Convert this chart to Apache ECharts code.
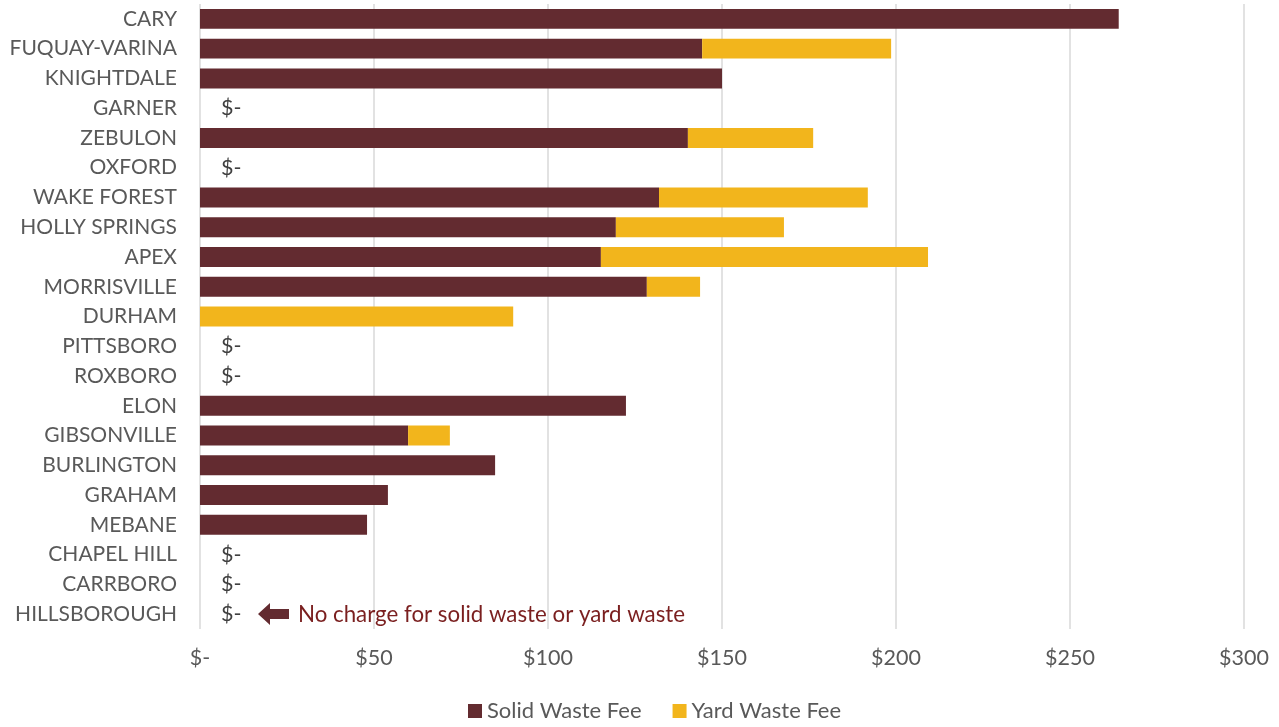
<!DOCTYPE html>
<html><head><meta charset="utf-8">
<script src="https://cdn.jsdelivr.net/npm/echarts@6/dist/echarts.min.js"></script>
<style>html,body{margin:0;padding:0;background:#fff}#c{width:1279px;height:727px}</style>
</head><body><div id="c"></div>
<script>
const categories = ['CARY','FUQUAY-VARINA','KNIGHTDALE','GARNER','ZEBULON','OXFORD','WAKE FOREST','HOLLY SPRINGS','APEX','MORRISVILLE','DURHAM','PITTSBORO','ROXBORO','ELON','GIBSONVILLE','BURLINGTON','GRAHAM','MEBANE','CHAPEL HILL','CARRBORO','HILLSBOROUGH'];
const solidWaste = [264, 144.3, 150, 0, 140.2, 0, 131.9, 119.5, 115.2, 128.4, 0, 0, 0, 122.4, 59.8, 84.8, 54, 48, 0, 0, 0];
const yardWaste  = [0, 54.3, 0, 0, 36, 0, 60, 48.3, 94, 15.3, 90, 0, 0, 0, 12, 0, 0, 0, 0, 0, 0];
const xTicks = [0, 50, 100, 150, 200, 250, 300];
const noteText = 'No charge for solid waste or yard waste';
const noteCategory = 'HILLSBOROUGH';

const FONT = 'Lato, "Open Sans", sans-serif';
const FS = 21;
const chart = echarts.init(document.getElementById('c'));
const fmt = v => v === 0 ? '$-' : '$' + v;

const solidData = solidWaste.map((v, i) => {
  const zero = v === 0 && yardWaste[i] === 0;
  return zero ? { value: v, label: { show: true, position: 'right', distance: 21, formatter: '$-', color: '#404040', fontSize: 21.5, fontFamily: FONT } } : v;
});

chart.setOption({
  animation: false,
  grid: { left: 200, right: 35, top: 4, bottom: 98 },
  legend: {
    bottom: 0, left: 463, itemWidth: 14, itemHeight: 14, itemGap: 31,
    icon: 'rect',
    textStyle: { fontSize: 22, color: '#595959', fontFamily: FONT },
    data: ['Solid Waste Fee', 'Yard Waste Fee']
  },
  xAxis: {
    type: 'value', min: 0, max: 300, interval: 50,
    axisLabel: { formatter: fmt, fontSize: 21.5, color: '#595959', fontFamily: FONT, margin: 18 },
    splitLine: { lineStyle: { color: '#d9d9d9', width: 1.5 } },
    axisLine: { show: false }, axisTick: { show: false }
  },
  yAxis: {
    type: 'category', data: categories, inverse: true,
    axisLine: { show: false }, axisTick: { show: false },
    axisLabel: { fontSize: FS, color: '#595959', fontFamily: FONT, margin: 23 }
  },
  series: [
    { name: 'Solid Waste Fee', type: 'bar', stack: 'fee', data: solidData, barWidth: '67%',
      itemStyle: { color: '#632b30' } },
    { name: 'Yard Waste Fee', type: 'bar', stack: 'fee', data: yardWaste, barWidth: '67%',
      itemStyle: { color: '#f2b51c' } }
  ]
});

const p = chart.convertToPixel({ gridIndex: 0 }, [0, noteCategory]);
const ax = p[0] + 58, ay = p[1];
chart.setOption({
  graphic: [
    { type: 'polygon', shape: { points: [
        [ax, ay], [ax + 12, ay - 11], [ax + 12, ay - 5], [ax + 31, ay - 5],
        [ax + 31, ay + 5], [ax + 12, ay + 5], [ax + 12, ay + 11]
      ] }, style: { fill: '#632b30' } },
    { type: 'text', x: ax + 40, y: ay + 1, style: { text: noteText, fill: '#7a1f1f', fontSize: 22.3, fontFamily: FONT, verticalAlign: 'middle', align: 'left' } }
  ]
});
</script></body></html>
